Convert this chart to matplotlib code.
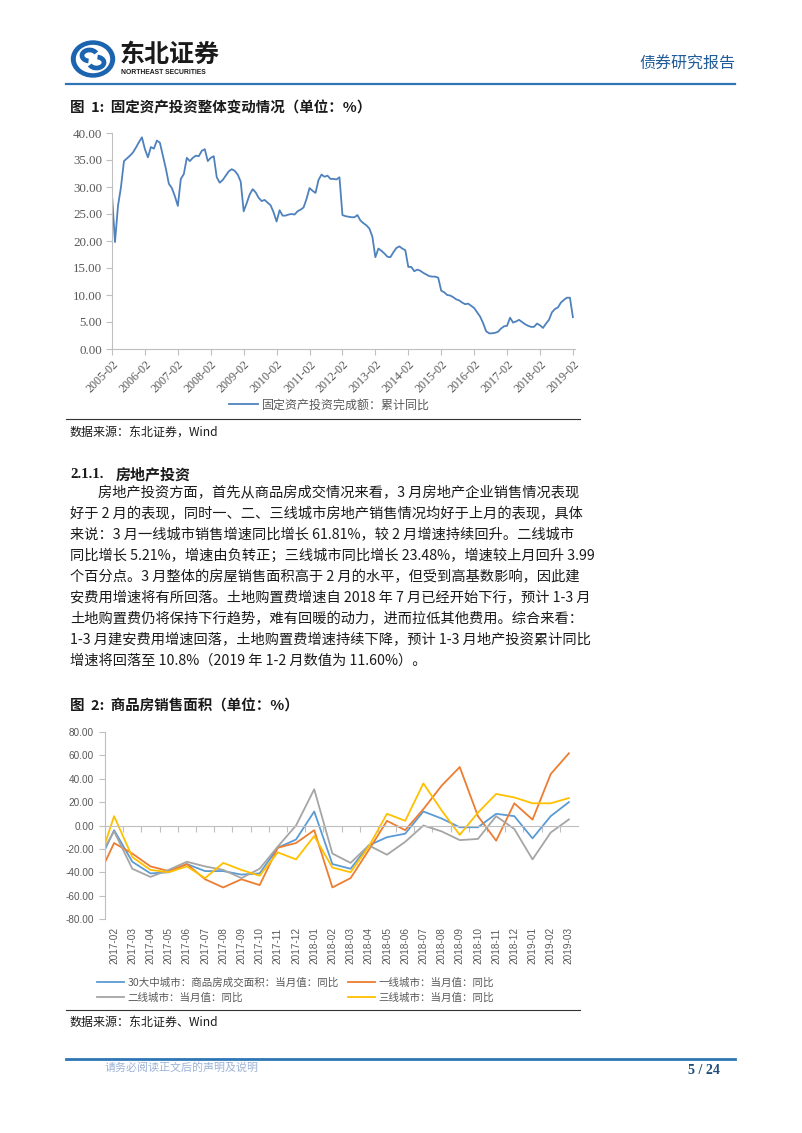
import matplotlib
matplotlib.use('Agg')
import matplotlib.pyplot as plt
from matplotlib.patches import Ellipse, Arc
from matplotlib.lines import Line2D
import numpy as np

# ---------------- data ----------------
# Chart 1: 固定资产投资完成额:累计同比 (Feb..Dec each year)
fai_2005 = [28.5, 19.8, 26.5, 30.0, 34.8, 35.3, 35.8, 36.4, 37.3, 38.3, 39.2]
fai_2006 = [37.0, 35.5, 37.4, 37.1, 38.6, 38.2, 35.8, 33.4, 30.6, 29.8, 28.3]
fai_2007 = [26.5, 31.5, 32.4, 35.4, 34.8, 35.4, 35.8, 35.7, 36.7, 37.0, 34.8]
fai_2008 = [35.4, 35.7, 31.8, 30.8, 31.3, 32.1, 32.9, 33.3, 33.0, 32.3, 31.0]
fai_2009 = [25.5, 27.0, 28.6, 29.6, 29.0, 28.0, 27.4, 27.6, 27.1, 26.6, 25.3]
fai_2010 = [23.6, 25.7, 24.7, 24.7, 24.9, 25.0, 24.9, 25.5, 25.8, 26.2, 27.8]
fai_2011 = [29.8, 29.3, 28.9, 31.3, 32.3, 31.9, 32.1, 31.5, 31.5, 31.4, 31.8]
fai_2012 = [24.8, 24.6, 24.5, 24.4, 24.4, 24.8, 23.8, 23.3, 22.9, 22.3, 20.8]
fai_2013 = [17.0, 18.6, 18.2, 17.7, 17.1, 17.0, 17.9, 18.7, 19.0, 18.6, 18.3]
fai_2014 = [15.2, 15.2, 14.4, 14.7, 14.5, 14.1, 13.8, 13.5, 13.4, 13.4, 13.2]
fai_2015 = [10.8, 10.5, 10.0, 9.9, 9.6, 9.2, 9.0, 8.6, 8.3, 8.4, 8.0]
fai_2016 = [7.6, 6.8, 6.0, 4.8, 3.3, 2.9, 2.9, 3.0, 3.2, 3.8, 4.2]
fai_2017 = [4.3, 5.8, 4.9, 5.1, 5.4, 5.0, 4.6, 4.3, 4.1, 4.1, 4.7]
fai_2018 = [4.4, 3.9, 4.7, 5.4, 6.8, 7.4, 7.7, 8.6, 9.1, 9.5, 9.5]
fai_2019 = [5.9]
fai_years = list(range(2005, 2020))
fai_ticklabels = [f"{y}-02" for y in fai_years]
fai_label = "固定资产投资完成额：累计同比"

# Chart 2: 商品房销售面积 当月同比 (first entry 2017-01 sits outside the visible axis)
months = ["2017-01", "2017-02", "2017-03", "2017-04", "2017-05", "2017-06", "2017-07",
          "2017-08", "2017-09", "2017-10", "2017-11", "2017-12", "2018-01",
          "2018-02", "2018-03", "2018-04", "2018-05", "2018-06", "2018-07",
          "2018-08", "2018-09", "2018-10", "2018-11", "2018-12", "2019-01",
          "2019-02", "2019-03"]
city30 = [-37, -4, -31, -41, -40, -33, -39, -39, -42, -41, -19, -12, 12,
          -33, -37, -17, -10, -7, 12, 6, -1.5, -1.5, 10, 8, -11, 8, 20]
tier1 = [-48, -15, -24, -35, -39, -33, -46, -53, -46, -51, -19, -15, -4,
         -53, -45, -21, 4, -4, 14, 34, 50, 8, -13, 19, 5, 44, 61.81]
tier2 = [-32, -5, -37, -44, -38, -31, -35, -38, -45, -37, -18, 0, 31,
         -24, -32, -17, -25, -14, 0, -5, -12.5, -11.5, 8, -3, -29, -6, 5.21]
tier3 = [-39, 8, -27, -38, -40, -35, -45, -32, -38, -43, -23, -29, -9,
         -36, -40, -18, 10, 4, 36, 13, -8, 11, 27, 24, 19, 19, 23.48]
series2_labels = ["30大中城市：商品房成交面积：当月值：同比", "一线城市：当月值：同比",
                  "二线城市：当月值：同比", "三线城市：当月值：同比"]
series2_colors = ["#5B9BD5", "#ED7D31", "#A5A5A5", "#FFC000"]

para_lines = [
    "房地产投资方面，首先从商品房成交情况来看，3 月房地产企业销售情况表现",
    "好于 2 月的表现，同时一、二、三线城市房地产销售情况均好于上月的表现，具体",
    "来说：3 月一线城市销售增速同比增长 61.81%，较 2 月增速持续回升。二线城市",
    "同比增长 5.21%，增速由负转正；三线城市同比增长 23.48%，增速较上月回升 3.99",
    "个百分点。3 月整体的房屋销售面积高于 2 月的水平，但受到高基数影响，因此建",
    "安费用增速将有所回落。土地购置费增速自 2018 年 7 月已经开始下行，预计 1-3 月",
    "土地购置费仍将保持下行趋势，难有回暖的动力，进而拉低其他费用。综合来看：",
    "1-3 月建安费用增速回落，土地购置费增速持续下降，预计 1-3 月地产投资累计同比",
    "增速将回落至 10.8%（2019 年 1-2 月数值为 11.60%）。",
]

# ---------------- page setup ----------------
W, H, DPI = 802, 1133, 100
CJK = ['Noto Sans CJK SC', 'DejaVu Sans']
SERIF = ['Liberation Serif', 'Noto Sans CJK SC']
SANS = ['Liberation Sans', 'Noto Sans CJK SC']
plt.rcParams['font.family'] = CJK
fig = plt.figure(figsize=(W / DPI, H / DPI), dpi=DPI)
fig.patch.set_facecolor('white')


def fx(x):
    return x / W


def fy(y):
    return 1 - y / H


def pt(px):
    return px * 72 / DPI


def hline(x0, x1, y, color, lw):
    fig.add_artist(Line2D([fx(x0), fx(x1)], [fy(y), fy(y)], color=color, lw=lw))


TXT = '#1a1a1a'
GRAY = '#595959'
AX = '#BFBFBF'
BLUE_HDR = '#1F5C99'

# ---------------- header ----------------
axl = fig.add_axes([fx(70), fy(78), fx(46), 38 / H])
axl.set_xlim(0, 46)
axl.set_ylim(0, 38)
axl.axis('off')
axl.add_patch(Ellipse((23, 19), 43, 36, color='#1B64B0'))
axl.add_patch(Ellipse((23, 19), 33, 27, color='white'))
axl.add_patch(Arc((19.5, 22.5), 15, 11, theta1=20, theta2=260, color='#1B64B0', lw=3.4))
axl.add_patch(Arc((26.5, 15.5), 15, 11, theta1=200, theta2=440, color='#1B64B0', lw=3.4))

fig.text(fx(120), fy(55), '东北证券', fontsize=pt(25), weight='bold', color=TXT, va='center')
fig.text(fx(121), fy(72), 'NORTHEAST SECURITIES', fontsize=pt(6.8), weight='bold',
         color=TXT, va='center', family=SANS)
fig.text(fx(735), fy(64), '债券研究报告', fontsize=pt(16), color=BLUE_HDR, ha='right', va='center')
hline(66, 735, 84, '#2E75B6', 1.6)

# ---------------- chart 1 ----------------
fig.text(fx(70), fy(108), '图  1:  固定资产投资整体变动情况（单位：%）', fontsize=pt(14.5),
         weight='bold', color=TXT, va='center')

fai = (fai_2005 + fai_2006 + fai_2007 + fai_2008 + fai_2009 + fai_2010 + fai_2011 +
       fai_2012 + fai_2013 + fai_2014 + fai_2015 + fai_2016 + fai_2017 + fai_2018 + fai_2019)
ax1 = fig.add_axes([fx(112), fy(349), fx(575 - 112), (349 - 133) / H])
x1 = np.arange(len(fai))
line1, = ax1.plot(x1, fai, color='#4F81BD', lw=1.3, label=fai_label)
ax1.set_xlim(0, len(fai) - 1 + 0.7)
ax1.set_ylim(0, 40)
ax1.set_yticks(np.arange(0, 40.1, 5))
ax1.set_yticklabels([f"{v:.2f}" for v in np.arange(0, 40.1, 5)], family=SERIF,
                    fontsize=pt(13), color=GRAY)
ax1.set_xticks(np.arange(0, len(fai), 11))
ax1.set_xticklabels(fai_ticklabels, rotation=45, ha='right', va='top', rotation_mode='anchor',
                    family=SERIF, fontsize=pt(12), color=GRAY)
for s in ['top', 'right']:
    ax1.spines[s].set_visible(False)
for s in ['left', 'bottom']:
    ax1.spines[s].set_color(AX)
    ax1.spines[s].set_linewidth(0.8)
ax1.tick_params(axis='both', direction='out', length=4, color=AX, width=0.8)
ax1.tick_params(axis='y', pad=3)
ax1.tick_params(axis='x', pad=3)

fig.legend(handles=[line1], loc='center left', bbox_to_anchor=(fx(229), fy(405)),
           frameon=False, prop={'family': CJK, 'size': pt(12)}, labelcolor=GRAY,
           handlelength=2.4, handletextpad=0.35, borderpad=0, borderaxespad=0)

hline(66, 580, 419, '#333333', 0.8)
fig.text(fx(70), fy(432), '数据来源：东北证券，Wind', fontsize=pt(12), color=TXT, va='center')

# ---------------- text section ----------------
fig.text(fx(70), fy(474), '2.1.1.', fontsize=pt(15), weight='bold', family=SERIF,
         color=TXT, va='center')
fig.text(fx(116), fy(474), '房地产投资', fontsize=pt(15), weight='bold', color=TXT, va='center')
for i, ln in enumerate(para_lines):
    x0 = 98 if i == 0 else 70
    fig.text(fx(x0), fy(493 + 21 * i), ln, fontsize=pt(14.2), color=TXT, va='center')

# ---------------- chart 2 ----------------
fig.text(fx(70), fy(706), '图  2:  商品房销售面积（单位：%）', fontsize=pt(14.5),
         weight='bold', color=TXT, va='center')

ax2 = fig.add_axes([fx(105), fy(919), fx(578 - 105), (919 - 732) / H])
x2 = np.arange(len(months)) - 1
handles = []
for vals, lab, col in zip([city30, tier1, tier2, tier3], series2_labels, series2_colors):
    h, = ax2.plot(x2, vals, color=col, lw=1.3, label=lab)
    handles.append(h)
ax2.set_xlim(-0.5, len(months) - 1.5)
ax2.set_ylim(-80, 80)
yt = np.arange(-80, 80.1, 20)
ax2.set_yticks(yt)
ax2.set_yticklabels([f"{v:.2f}" for v in yt], family=SANS, fontsize=pt(10), color=GRAY)
ax2.set_xticks(np.arange(0.5, len(months) - 1.5, 1.0))
ax2.set_xticklabels([])
for s in ['top', 'right']:
    ax2.spines[s].set_visible(False)
ax2.spines['bottom'].set_position(('data', 0))
for s in ['left', 'bottom']:
    ax2.spines[s].set_color(AX)
    ax2.spines[s].set_linewidth(0.8)
ax2.tick_params(axis='both', direction='out', length=4, color=AX, width=0.8)
ax2.tick_params(axis='y', pad=4)
for i, m in enumerate(months[1:]):
    ax2.annotate(m, xy=(i, -80), xytext=(0, -6), textcoords='offset points',
                 rotation=90, ha='center', va='top', family=SANS, fontsize=pt(10),
                 color=GRAY, annotation_clip=False)

order = [0, 2, 1, 3]
fig.legend(handles=[handles[k] for k in order], labels=[series2_labels[k] for k in order],
           ncol=2, loc='upper left', bbox_to_anchor=(fx(97), fy(977)), frameon=False,
           prop={'family': CJK, 'size': pt(10.5)}, labelcolor=GRAY,
           handlelength=2.6, handletextpad=0.3, columnspacing=0.9, labelspacing=0.45,
           borderpad=0, borderaxespad=0)

hline(66, 580, 1010, '#333333', 0.8)
fig.text(fx(70), fy(1022), '数据来源：东北证券、Wind', fontsize=pt(12), color=TXT, va='center')

# ---------------- footer ----------------
hline(66, 735, 1059, '#2E75B6', 2.0)
fig.text(fx(105), fy(1067), '请务必阅读正文后的声明及说明', fontsize=pt(11), color='#9DB3D6',
         va='center')
fig.text(fx(720), fy(1071), '5 / 24', fontsize=pt(14), weight='bold', family=SERIF,
         color='#1F4E79', ha='right', va='center')

fig.savefig('out.png', dpi=DPI, facecolor='white')
